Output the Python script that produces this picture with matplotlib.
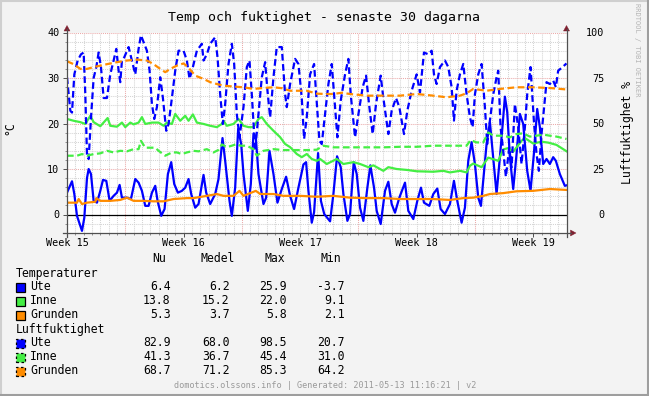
import matplotlib
matplotlib.use('Agg')
import matplotlib.pyplot as plt
from matplotlib.patches import Rectangle, Polygon
from matplotlib.lines import Line2D

# ---------------- data ----------------
title = "Temp och fuktighet - senaste 30 dagarna"
week_pos = [0, 7, 14, 21, 28]
week_labels = ["Week 15", "Week 16", "Week 17", "Week 18", "Week 19"]
temp_ticks = [0, 10, 20, 30, 40]
hum_ticks = [0, 25, 50, 75, 100]

ute_temp = [(0.0,4.8),(0.3,7.3),(0.44,4.5),(0.6,-0.3),(0.9,-3.6),(1.04,-0.7),(1.2,8.0),(1.3,10.0),(1.44,8.9),
    (1.6,3.0),(1.8,2.6),(2.0,5.2),(2.16,7.6),(2.36,7.4),(2.56,3.0),(2.8,4.1),(3.0,4.8),(3.16,6.5),(3.3,3.7),
    (3.6,3.7),(3.84,3.4),(4.1,7.8),(4.3,7.0),(4.5,5.2),(4.7,1.9),(4.9,1.9),(5.1,4.8),(5.3,6.3),(5.44,3.0),
    (5.66,-0.3),(5.86,1.2),(6.06,8.9),(6.26,11.5),(6.44,6.7),(6.66,4.8),(6.9,5.2),(7.1,5.9),(7.3,7.8),(7.46,4.5),
    (7.7,1.5),(7.9,2.3),(8.2,8.7),(8.36,4.8),(8.6,2.3),(8.9,4.5),(9.1,7.8),(9.34,16.8),(9.5,11.8),(9.76,3.0),
    (9.9,-0.3),(10.1,5.9),(10.28,18.8),(10.46,15.5),(10.6,8.9),(10.86,0.8),(11.04,6.7),(11.2,17.8),(11.34,17.0),
    (11.5,8.9),(11.8,2.3),(11.96,3.7),(12.16,14.0),(12.4,8.9),(12.64,2.6),(12.9,5.6),(13.16,8.3),(13.4,4.1),
    (13.64,1.2),(13.9,5.9),(14.2,11.0),(14.36,11.5),(14.5,5.2),(14.7,-1.8),(14.84,0.5),(15.08,13.5),(15.25,3.0),
    (15.45,0.1),(15.8,-1.5),(16.0,4.5),(16.22,12.8),(16.44,10.4),(16.6,4.5),(16.84,-1.4),(17.0,0.1),(17.22,11.5),
    (17.4,8.9),(17.6,1.5),(17.8,-1.4),(18.04,5.9),(18.22,10.8),(18.44,5.9),(18.6,0.8),(18.84,-2.1),(19.1,5.2),
    (19.3,7.2),(19.5,2.3),(19.7,0.4),(19.96,3.7),(20.3,7.0),(20.5,0.8),(20.8,-1.0),(21.04,3.0),(21.26,5.9),
    (21.44,2.6),(21.76,1.9),(22.0,4.5),(22.24,5.7),(22.44,1.2),(22.7,0.1),(23.0,2.3),(23.24,7.4),(23.44,3.0),
    (23.7,-1.8),(23.9,1.5),(24.1,11.8),(24.3,15.9),(24.5,11.1),(24.7,3.7),(24.86,1.9),(25.0,7.4),(25.2,15.5),
    (25.4,20.3),(25.56,14.0),(25.8,4.5),(26.0,12.6),(26.16,19.5),(26.3,25.9),(26.44,22.5),(26.6,12.6),(26.8,5.6),
    (27.0,13.3),(27.2,22.1),(27.4,19.9),(27.64,9.6),(27.84,5.2),(28.04,13.3),(28.24,23.2),(28.4,19.2),(28.6,11.1),
    (28.8,12.2),(29.0,11.1),(29.2,12.6),(29.36,11.8),(29.6,8.9),(29.9,6.3),(30.0,6.4)]

inne_temp = [(0,21.0),(0.4,20.6),(0.8,20.3),(1.1,19.9),(1.4,21.7),(1.6,20.3),(2.0,19.4),(2.44,21.2),(2.6,19.5),
    (3.0,19.3),(3.3,20.2),(3.5,19.2),(3.8,20.2),(4.0,19.8),(4.3,20.2),(4.5,21.4),(4.7,19.9),(5.1,20.2),(5.5,20.2),
    (5.8,19.5),(6.0,20.2),(6.3,19.9),(6.5,22.1),(6.8,20.6),(7.1,21.7),(7.3,20.6),(7.56,22.0),(7.8,20.2),(8.2,19.9),
    (8.6,19.5),(9.0,19.2),(9.3,19.9),(9.4,20.6),(9.6,19.5),(10.0,19.9),(10.3,21.0),(10.6,19.5),(10.9,19.2),
    (11.2,19.2),(11.5,21.0),(11.7,21.4),(12.0,19.9),(12.4,18.4),(12.8,17.0),(13.1,15.5),(13.4,14.8),(13.8,13.3),
    (14.1,12.6),(14.4,13.3),(14.7,12.2),(15.0,11.8),(15.2,12.2),(15.6,11.1),(16.2,12.2),(16.6,11.1),(17.2,11.5),
    (17.6,11.1),(18.1,10.4),(18.4,10.8),(19.0,9.6),(19.3,10.4),(19.8,10.0),(20.4,9.8),(21.0,9.5),(22.0,9.4),
    (22.6,9.6),(23.0,9.25),(23.6,9.6),(24.0,9.25),(24.2,10.7),(24.4,11.2),(24.9,10.4),(25.3,12.5),(25.9,11.8),
    (26.2,14.3),(26.5,14.6),(26.8,13.8),(27.3,16.2),(27.5,16.8),(28.0,15.6),(28.5,16.0),(28.9,15.8),(29.4,15.3),
    (30.0,13.9)]

grund_temp = [(0,2.6),(0.6,2.6),(0.7,3.4),(0.9,2.3),(1.2,2.6),(1.7,2.8),(1.76,3.6),(2.0,3.0),(2.6,3.0),(3.2,3.2),
    (3.6,3.7),(4.0,3.0),(4.6,3.0),(5.2,2.9),(5.8,2.9),(6.4,3.4),(7.2,3.6),(7.6,3.6),(8.4,4.1),(9.0,4.5),(9.4,4.1),
    (10.0,4.1),(10.36,5.2),(10.6,4.1),(11.34,5.2),(11.6,4.5),(12.4,4.5),(13.0,4.1),(14.0,4.1),(15.0,3.9),
    (16.0,4.1),(17.0,3.7),(18.0,3.6),(19.0,3.6),(20.0,3.4),(21.0,3.4),(22.0,3.4),(23.0,3.2),(23.8,3.6),(24.4,3.7),
    (25.0,4.1),(25.4,4.5),(26.2,4.7),(27.0,5.1),(28.0,5.2),(29.0,5.6),(30.0,5.4)]

ute_hum = [(0.0,75.4),(0.2,57),(0.3,56),(0.44,77),(0.64,84.6),(0.84,88),(1.0,89),(1.1,66),(1.2,33),(1.3,30.5),
    (1.44,53),(1.6,75),(1.76,81),(1.9,89),(2.04,81),(2.2,64),(2.4,64),(2.6,77),(2.8,84.6),(2.96,91),(3.1,79),
    (3.2,72.7),(3.3,84.6),(3.44,86.4),(3.7,92),(3.9,84.6),(4.1,77),(4.3,91),(4.44,98.5),(4.6,94.7),(4.8,90),
    (4.96,79),(5.1,60.7),(5.24,52.5),(5.4,59),(5.6,75.4),(5.76,64),(5.96,46),(6.1,49.7),(6.3,64),(6.5,79),
    (6.7,90),(7.0,90),(7.2,84.6),(7.36,74.5),(7.56,81),(7.8,90),(8.1,93.8),(8.2,84.6),(8.4,88),(8.6,93.8),
    (8.9,97.4),(9.04,86.4),(9.2,66),(9.36,49.7),(9.5,60.7),(9.7,82.7),(9.9,93.8),(10.04,82.7),(10.2,55),
    (10.36,42.4),(10.6,59),(10.8,81),(10.96,84.6),(11.1,66),(11.3,35),(11.5,55),(11.7,75.4),(11.9,83.7),
    (12.04,68),(12.2,53.4),(12.4,75.4),(12.6,92),(12.9,92),(13.1,66),(13.2,59),(13.4,71.7),(13.7,85.5),
    (13.9,82.7),(14.1,64),(14.24,41.5),(14.4,53.4),(14.6,77),(14.84,82.7),(15.0,62),(15.16,40.6),(15.3,38.7),
    (15.5,55),(15.7,71.7),(15.9,82.7),(16.04,66),(16.24,42.4),(16.44,62.6),(16.7,77),(16.9,85.5),(17.04,66),
    (17.3,42.4),(17.5,55),(17.76,70),(17.96,76.3),(18.16,59),(18.36,44.2),(18.56,60.7),(18.84,76.3),(19.0,64),
    (19.3,44.2),(19.5,57),(19.76,64),(19.96,59),(20.24,44.2),(20.44,57),(20.7,68),(21.0,77),(21.2,67),
    (21.44,89),(21.7,88),(21.9,90),(22.04,77),(22.2,71.7),(22.4,81),(22.7,84.6),(22.9,81),(23.1,70),(23.24,51.6),
    (23.4,68),(23.6,77),(23.8,82.7),(24.0,66),(24.2,53.4),(24.36,47.9),(24.5,66),(24.7,77),(24.9,82.7),(25.1,59),
    (25.24,38.7),(25.4,51.6),(25.6,66),(25.8,75.4),(25.9,79),(26.04,47.9),(26.2,35),(26.36,20.7),(26.56,36.9),
    (26.7,25.9),(26.9,60.7),(27.1,47.9),(27.3,27.7),(27.5,47.9),(27.64,66),(27.84,81),(28.04,51.6),(28.2,33.2),
    (28.34,24),(28.5,44.2),(28.8,72.7),(29.0,71.7),(29.2,73.6),(29.36,70),(29.5,79),(29.76,81),(30.0,83.0)]

inne_hum = [(0,32.3),(0.6,32.3),(0.9,33.2),(1.2,32.3),(1.6,33.2),(2.0,33.6),(2.4,35),(2.8,34.1),(3.2,35),
    (3.6,34.7),(4.0,35.9),(4.3,35.9),(4.44,40.5),(4.7,36.7),(5.0,36.7),(5.3,36.7),(5.5,35),(5.9,32.3),(6.3,34.1),
    (6.6,34.1),(6.9,33.2),(7.2,34.1),(7.6,35),(7.9,34.7),(8.4,35.9),(8.8,34.1),(9.1,35.5),(9.3,38.5),(9.6,37),
    (9.9,37.8),(10.2,38.7),(10.4,37.8),(10.8,37.8),(11.2,35.9),(11.4,32.3),(11.8,35),(12.4,35.9),(13.0,35.4),
    (13.6,35.4),(14.0,35.4),(14.4,35.4),(15.0,35.6),(15.4,37.8),(16.0,36.9),(17.0,36.9),(18.0,36.9),(19.0,36.9),
    (20.0,37.2),(21.0,37.2),(22.0,37.8),(23.0,37.8),(24.0,37.8),(24.24,40.9),(24.6,39.6),(25.0,39.6),(25.3,45.1),
    (25.6,43.3),(26.2,43.3),(26.6,42.4),(27.0,44.2),(27.4,44.6),(27.8,42.8),(28.2,43.3),(28.6,43.9),(29.0,43.3),
    (29.4,42.8),(30.0,41.5)]

grund_hum = [(0,84.2),(0.4,82.6),(0.8,80),(1.2,80),(1.6,81),(2.0,81.8),(2.4,82.6),(3.0,83.7),(3.6,84.6),(4.2,85.1),
    (4.8,84.6),(5.2,82.6),(5.6,80),(5.9,78.2),(6.2,80),(6.6,81.8),(7.0,83),(7.3,80.7),(7.7,76.3),(8.2,74.5),
    (8.6,72.7),(9.0,71.7),(9.4,70.8),(10.0,70.3),(10.6,69.9),(11.2,69),(11.8,69.5),(12.4,69.9),(12.9,69.4),
    (13.4,68),(14.0,68),(14.4,68),(15.0,66.4),(15.6,66.2),(16.0,66.2),(16.5,66.9),(17.0,66.2),(18.0,65.3),
    (19.0,65.3),(20.0,65.3),(21.0,66.2),(22.0,65.3),(22.8,64.4),(23.6,65.3),(24.0,66.6),(24.4,69),(25.2,68),
    (26.0,69),(27.0,69.9),(28.0,69.9),(29.0,69.5),(30.0,68.7)]

series_names = ["Ute", "Inne", "Grunden"]
stat_headers = ["Nu", "Medel", "Max", "Min"]
temp_stats = [[6.4, 6.2, 25.9, -3.7], [13.8, 15.2, 22.0, 9.1], [5.3, 3.7, 5.8, 2.1]]
hum_stats = [[82.9, 68.0, 98.5, 20.7], [41.3, 36.7, 45.4, 31.0], [68.7, 71.2, 85.3, 64.2]]
footer = "domotics.olssons.info | Generated: 2011-05-13 11:16:21 | v2"

# ---------------- style ----------------
W, H = 649, 396
MONO = "DejaVu Sans Mono"
colors = ["#0000FF", "#44EE44", "#FF8C00"]
BG = "#F3F3F3"
AXC = "#505050"
ARROW = "#7F1F2F"

fig = plt.figure(figsize=(W / 100, H / 100), dpi=100, facecolor=BG)

def fx(px):
    return px / W

def fy(py):
    return 1 - py / H

L, R, T, B = 67, 566.5, 32.5, 232.7
ax = fig.add_axes([fx(L), fy(B), (R - L) / W, (B - T) / H])
ax.set_facecolor("white")
ax.set_xlim(0, 30)
ax.set_ylim(-4, 40)
for s in ax.spines.values():
    s.set_visible(False)

# grid
dot = (0, (1, 1))
for i in range(0, 61):
    d = i * 0.5
    if d in (0, 30):
        continue
    major = (d - 3.5) % 7 == 0
    ax.axvline(d, color="#EBAAAA" if major else "#D4D4D4", lw=0.75, ls=dot, zorder=0.5)
for v in range(-2, 41, 2):
    major = v % 10 == 0
    if v == 0:
        continue
    ax.axhline(v, color="#EBAAAA" if major else "#D4D4D4", lw=0.75, ls=dot, zorder=0.5)
ax.axhline(0, color="black", lw=0.9, zorder=1)

# ticks
ax.set_xticks(week_pos)
ax.set_xticklabels(week_labels, family=MONO, fontsize=7.3)
ax.set_xticks([i * 0.5 for i in range(61)], minor=True)
ax.set_yticks(temp_ticks)
ax.set_yticklabels([str(t) for t in temp_ticks], family=MONO, fontsize=7.3)
ax.set_yticks(list(range(-4, 41, 2)), minor=True)
ax.tick_params(axis="both", which="major", length=3, width=0.7, color=AXC, pad=1.5)
ax.tick_params(axis="both", which="minor", length=1.5, width=0.7, color="#909090")
ax.tick_params(axis="x", which="major", pad=0.5)
ax.tick_params(axis="y", which="major", pad=2.5)

# temperature lines
for ser, c in zip([ute_temp, inne_temp, grund_temp], colors):
    xs, ys = zip(*ser)
    ax.plot(xs, ys, color=c, lw=1.6, solid_joinstyle="round", zorder=3)

# humidity axis
ax2 = ax.twinx()
ax2.set_ylim(-10, 100)
ax2.set_xlim(0, 30)
for s in ax2.spines.values():
    s.set_visible(False)
ax2.set_yticks(hum_ticks)
ax2.set_yticklabels([str(t) for t in hum_ticks], family=MONO, fontsize=7.3)
ax2.tick_params(axis="y", length=0, pad=27.4)
for lbl in ax2.get_yticklabels():
    lbl.set_horizontalalignment("right")
for ser, c in zip([ute_hum, inne_hum, grund_hum], colors):
    xs, ys = zip(*ser)
    ax2.plot(xs, ys, color=c, lw=1.6, dashes=(3, 1.6), zorder=3)

# axis lines and arrows (figure pixel coords)
def fline(x0, y0, x1, y1, **kw):
    fig.add_artist(Line2D([fx(x0), fx(x1)], [fy(y0), fy(y1)], transform=fig.transFigure, **kw))

def ftri(pts, color):
    fig.add_artist(Polygon([(fx(a), fy(b)) for a, b in pts], closed=True, transform=fig.transFigure,
                           facecolor=color, edgecolor=color, lw=0.3))

fline(L, 237, L, 29, color=AXC, lw=0.9)
fline(63, B, 571, B, color=AXC, lw=0.9)
fline(R, 237, R, 29, color=AXC, lw=0.9)
ftri([(64, 31), (70, 31), (67, 25.5)], ARROW)
ftri([(563.5, 31), (569.5, 31), (566.5, 25.5)], ARROW)
ftri([(570.5, 230), (570.5, 236), (576, 233)], ARROW)

# titles / labels
fig.text(fx(324.5), fy(17), title, ha="center", va="center", family=MONO, fontsize=9.5)
fig.text(fx(10), fy(128), "°C", rotation=90, ha="center", va="center", family=MONO, fontsize=8.3)
fig.text(fx(627.5), fy(132), "Luftfuktighet %", rotation=90, ha="center", va="center", family=MONO, fontsize=8.3)
fig.text(fx(637.5), fy(50), "RRDTOOL / TOBI OETIKER", rotation=270, ha="center", va="center",
         family=MONO, fontsize=5, color="#B4B4B4")

# legend table
head_x = [159.5, 218, 274.5, 331]
val_right = [170.5, 229.5, 286.5, 344.5]
for hx, hname in zip(head_x, stat_headers):
    fig.text(fx(hx), fy(259), hname, ha="center", va="center", family=MONO, fontsize=8.3)

def group(label, gy, stats, dashed):
    fig.text(fx(16), fy(gy), label, ha="left", va="center", family=MONO, fontsize=8.3)
    for i, (nm, st, c) in enumerate(zip(series_names, stats, colors)):
        ry = gy + 14 * (i + 1)
        fig.add_artist(Rectangle((fx(15.5), fy(ry + 4.5)), 9 / W, 9 / H, transform=fig.transFigure,
                                 facecolor=c, edgecolor="black", lw=0.9,
                                 ls=(0, (2, 2)) if dashed else "-"))
        fig.text(fx(30), fy(ry), nm, ha="left", va="center", family=MONO, fontsize=8.3)
        for vx, val in zip(val_right, st):
            fig.text(fx(vx), fy(ry), f"{val:.1f}", ha="right", va="center", family=MONO, fontsize=8.3)

group("Temperaturer", 273, temp_stats, False)
group("Luftfuktighet", 329, hum_stats, True)

fig.text(fx(325), fy(385), footer, ha="center", va="center", family=MONO, fontsize=6.1, color="#9A9A9A")

# 3D frame
fline(0.5, 0, 0.5, H, color="#CFCFCF", lw=1.5)
fline(0, 0.5, W, 0.5, color="#CFCFCF", lw=1.5)
fline(W - 1, 0, W - 1, H, color="#9E9E9E", lw=1.5)
fline(0, H - 1, W, H - 1, color="#9E9E9E", lw=1.5)

fig.savefig("out.png", dpi=100, facecolor=BG)
